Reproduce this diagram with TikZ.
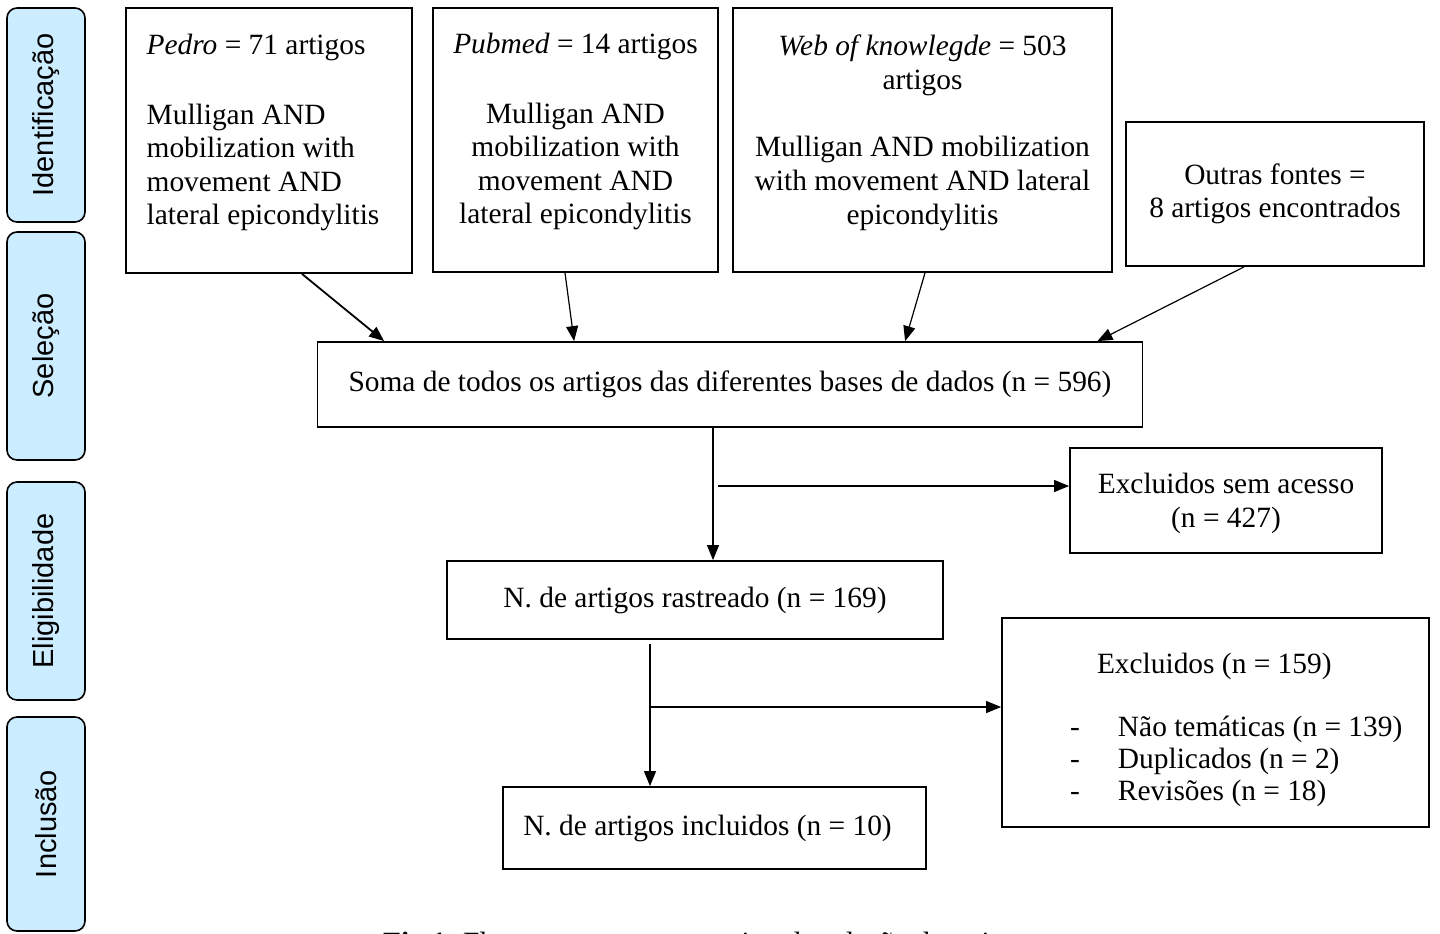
\documentclass[tikz,border=0pt]{standalone}
\usepackage{fontspec}
\setmainfont{Liberation Serif}
\newfontfamily\sidefont{Liberation Sans}
\usepackage{tikz}
\usetikzlibrary{arrows.meta}

\definecolor{sidefill}{RGB}{204,236,255}
\tikzset{
  box/.style={draw, line width=0.9pt, inner xsep=10pt, font=\fontsize{14.7}{16.8}\selectfont},
  side/.style={draw, rounded corners=5pt, fill=sidefill, line width=0.8pt, rotate=90,
    minimum height=39pt, font=\sidefont\fontsize{14.5}{17}\selectfont},
  arr/.style={-{Triangle[length=7.5pt,width=6pt]}, line width=0.6pt}
}

\begin{document}
\begin{tikzpicture}[x=0.5pt,y=-0.5pt]
            \useasboundingbox (0,0) rectangle (1440,933);
            \clip (0,0) rectangle (1440,933);

            % fases
            \foreach \n/\y/\len/\txt in {id/115/214/Identificação, sel/346/228/Seleção, eleg/591/218/Eligibilidade, inc/824/214/Inclusão}
            \node[side, minimum width=\len*0.5pt] (\n) at (46,\y) {\txt};

            \node[box, minimum width=143pt, minimum height=132.5pt, text depth=11pt, align=flush left] (pedro) at (269,140.5)
                {\textit{Pedro} = 71 artigos\\[18pt] Mulligan AND\\ mobilization with\\ movement AND\\ lateral epicondylitis\hspace*{6pt}};
            \node[box, minimum width=142.5pt, minimum height=132pt, text depth=11.5pt, align=center] (pubmed) at (575.5,140)
                {\textit{Pubmed} = 14 artigos\\[18pt] Mulligan AND\\ mobilization with\\ movement AND\\ lateral epicondylitis};
            \node[box, minimum width=189.5pt, minimum height=132pt, text depth=10.5pt, align=center] (web) at (922.5,140)
                {\textit{Web of knowlegde} = 503\\ artigos\\[17pt] Mulligan AND mobilization\\ with movement AND lateral\\ epicondylitis};
            \node[box, minimum width=149pt, minimum height=72pt, align=center] (outras) at (1275,194)
                {Outras fontes =\\ 8 artigos encontrados};

            \node[box, minimum width=412.5pt, minimum height=42.5pt] (soma) at (730,384.5)
                {Soma de todos os artigos das diferentes bases de dados (n = 596)};
            \node[box, minimum width=156pt, minimum height=52.5pt, text depth=0pt, align=center] (sem) at (1226,500.5)
                {Excluidos sem acesso\\ (n = 427)};
            \node[box, minimum width=248pt, minimum height=39pt] (rastr) at (695,600)
                {N. de artigos rastreado (n = 169)};
            \node[box, inner xsep=5pt, text width=203.5pt, text height=18pt, minimum height=104.5pt, align=flush left,
                  font=\fontsize{14.7}{16}\selectfont] (excl) at (1215.5,722.5)
                {\hspace*{42.5pt}Excluidos (n = 159)\\[15.5pt]
                 \hspace*{29pt}\makebox[24pt][l]{-}Não temáticas (n = 139)\\
                 \hspace*{29pt}\makebox[24pt][l]{-}Duplicados (n = 2)\\
                 \hspace*{29pt}\makebox[24pt][l]{-}Revisões (n = 18)};
            \node[box, minimum width=211.5pt, minimum height=41pt] (incl) at (714.5,828)
                {\hspace*{-7pt}N. de artigos incluidos (n = 10)};

            \node[anchor=base west, font=\fontsize{14.7}{16.8}\selectfont] (legenda) at (376,952)
                {\textbf{Fig.1.} Fluxograma representativo da seleção de artigos};

            \draw[arr, line width=0.9pt] ([xshift=16.5pt]pedro.south) -- ([xshift=33.75pt]soma.north west);
            \draw[arr] ([xshift=-5.25pt]pubmed.south) -- ([xshift=128.75pt]soma.north west);
            \draw[arr] ([xshift=1.25pt]web.south) -- ([xshift=294.25pt]soma.north west);
            \draw[arr] ([xshift=-15.5pt]outras.south) -- ([xshift=-23pt]soma.north east);

            \coordinate (d1) at ([xshift=-8.5pt]soma.south);
            \draw[arr] (d1) -- (d1 |- rastr.north);
            \coordinate (b1) at (718,486);
            \draw[arr] (b1) -- (b1 -| sem.west);
            %\draw[arr] (rastr.south) -- (incl.north);
            \coordinate (d2) at ([xshift=-22.5pt,yshift=-2pt]rastr.south);
            \draw[arr] (d2) -- (d2 |- incl.north);
            \coordinate (b2) at (650,707);
            \draw[arr] (b2) -- (b2 -| excl.west);
\end{tikzpicture}
\end{document}
